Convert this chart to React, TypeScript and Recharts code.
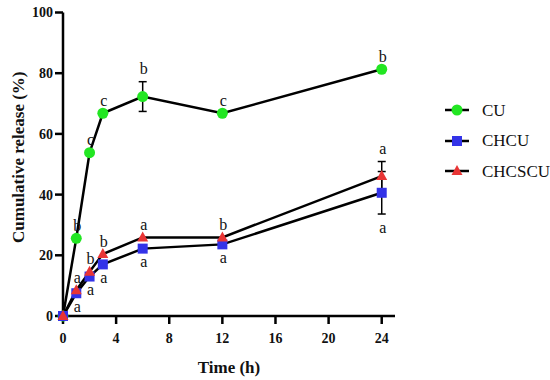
import React from 'react';
import { LineChart, Line, XAxis, YAxis, ErrorBar, LabelList } from 'recharts';

const times = [0, 1, 2, 3, 6, 12, 24];
const cuValues = [0, 25.6, 53.8, 66.8, 72.3, 66.8, 81.3];
const cuErrors = [null, null, null, null, 4.9, null, null];
const cuLetters = ['', 'b', 'c', 'c', 'b', 'c', 'b'];
const chcuValues = [0, 7.5, 13.0, 17.0, 22.2, 23.6, 40.6];
const chcuErrors = [null, null, null, null, null, null, 7.0];
const chcuLetters = ['', 'a', 'a', 'a', 'a', 'a', 'a'];
const chcscuValues = [0, 8.5, 14.6, 20.4, 25.9, 25.9, 46.1];
const chcscuErrors = [null, null, null, null, null, null, 4.8];
const chcscuLetters = ['', 'a', 'b', 'b', 'a', 'b', 'a'];
const xTicks = [0, 4, 8, 12, 16, 20, 24];
const yTicks = [0, 20, 40, 60, 80, 100];
const seriesNames = ['CU', 'CHCU', 'CHCSCU'];

const data = times.map((t, i) => ({
  t,
  CU: cuValues[i],
  CUerr: cuErrors[i],
  CUlab: cuLetters[i],
  CHCU: chcuValues[i],
  CHCUerr: chcuErrors[i],
  CHCUlab: chcuLetters[i],
  CHCSCU: chcscuValues[i],
  CHCSCUerr: chcscuErrors[i],
  CHCSCUlab: chcscuLetters[i],
}));

const GREEN = '#22e622';
const BLUE = '#3333e8';
const RED = '#e83535';
const FONT = 'Liberation Serif';
const PX_PER_UNIT = 303.5 / 100;

const Circle = (props: any) => {
  const { cx, cy } = props;
  if (cx == null || cy == null) return null;
  return <circle cx={cx} cy={cy} r={5.5} fill={GREEN} stroke="none" />;
};
const Square = (props: any) => {
  const { cx, cy } = props;
  if (cx == null || cy == null) return null;
  return <rect x={cx - 5} y={cy - 5} width={10} height={10} fill={BLUE} stroke="none" />;
};
const Triangle = (props: any) => {
  const { cx, cy } = props;
  if (cx == null || cy == null) return null;
  return <polygon points={`${cx},${cy - 6} ${cx + 5.5},${cy + 4} ${cx - 5.5},${cy + 4}`} fill={RED} stroke="none" />;
};

const makeLabel = (errors: (number | null)[], above: boolean) => (props: any) => {
  const { x, y, value, index } = props;
  if (!value) return null;
  const err = errors[index] ?? 0;
  const shift = err * PX_PER_UNIT;
  const cy = above ? y - shift - 13 : y + shift + 13;
  return (
    <text x={x + 1} y={cy} textAnchor="middle" dominantBaseline="central" fontFamily={FONT} fontSize={16} fill="#111">
      {value}
    </text>
  );
};

const markers: Record<string, (p: any) => any> = {
  CU: (p) => <circle cx={p.x} cy={p.y} r={5.5} fill={GREEN} />,
  CHCU: (p) => <rect x={p.x - 5} y={p.y - 5} width={10} height={10} fill={BLUE} />,
  CHCSCU: (p) => <polygon points={`${p.x},${p.y - 6} ${p.x + 5.5},${p.y + 4} ${p.x - 5.5},${p.y + 4}`} fill={RED} />,
};

const LegendBox = () => (
  <div style={{ position: 'absolute', left: 445, top: 95, fontFamily: FONT }}>
    {seriesNames.map((name) => (
      <div key={name} style={{ display: 'flex', alignItems: 'center', height: 30.5 }}>
        <svg width={37} height={14} style={{ display: 'block' }}>
          <line x1={0} y1={7} x2={24} y2={7} stroke="#000" strokeWidth={2.5} />
          {markers[name]({ x: 12, y: 7 })}
        </svg>
        <span style={{ fontSize: 17, color: '#111', lineHeight: '17px' }}>{name}</span>
      </div>
    ))}
  </div>
);

const tickStyle = { fill: '#111', fontSize: 14, fontWeight: 'bold', fontFamily: FONT } as any;

export default function App() {
  return (
    <div style={{ position: 'absolute', left: 0, top: 0, width: 550, height: 380, background: '#fff', fontFamily: FONT }}>
      <LineChart width={550} height={380} data={data} margin={{ top: 12.5, right: 155, bottom: 0, left: 0 }}>
        <XAxis
          dataKey="t"
          type="number"
          domain={[0, 25]}
          ticks={xTicks}
          interval={0}
          height={64}
          stroke="#000"
          strokeWidth={2.5}
          tickSize={8}
          tickMargin={9}
          tick={tickStyle}
          tickLine={{ stroke: '#000', strokeWidth: 2.5 }}
          label={(p: any) => {
            const vb = p.viewBox;
            return (
              <text x={vb.x + vb.width / 2} y={373} textAnchor="middle" fontFamily={FONT} fontSize={17} fontWeight="bold" fill="#111">
                Time (h)
              </text>
            );
          }}
        />
        <YAxis
          type="number"
          domain={[0, 100]}
          ticks={yTicks}
          interval={0}
          width={63}
          stroke="#000"
          strokeWidth={2.5}
          tickSize={8}
          tickMargin={2}
          tick={tickStyle}
          tickLine={{ stroke: '#000', strokeWidth: 2.5 }}
          label={(p: any) => {
            const vb = p.viewBox;
            const cy = vb.y + vb.height / 2 - 7;
            return (
              <text x={18} y={cy} transform={`rotate(-90, 18, ${cy})`} textAnchor="middle" dominantBaseline="central" fontFamily={FONT} fontSize={17} fontWeight="bold" fill="#111">
                Cumulative release (%)
              </text>
            );
          }}
        />
        <Line dataKey="CU" name="CU" stroke="#000" strokeWidth={2.5} dot={<Circle />} activeDot={false} isAnimationActive={false}>
          <ErrorBar dataKey="CUerr" width={4} stroke="#000" strokeWidth={1.5} direction="y" />
          <LabelList dataKey="CUlab" content={makeLabel(cuErrors, true)} />
        </Line>
        <Line dataKey="CHCU" name="CHCU" stroke="#000" strokeWidth={2.5} dot={<Square />} activeDot={false} isAnimationActive={false}>
          <ErrorBar dataKey="CHCUerr" width={4} stroke="#000" strokeWidth={1.5} direction="y" />
          <LabelList dataKey="CHCUlab" content={makeLabel(chcuErrors, false)} />
        </Line>
        <Line dataKey="CHCSCU" name="CHCSCU" stroke="#000" strokeWidth={2.5} dot={<Triangle />} activeDot={false} isAnimationActive={false}>
          <ErrorBar dataKey="CHCSCUerr" width={4} stroke="#000" strokeWidth={1.5} direction="y" />
          <LabelList dataKey="CHCSCUlab" content={makeLabel(chcscuErrors, true)} />
        </Line>
      </LineChart>
      <LegendBox />
    </div>
  );
}
